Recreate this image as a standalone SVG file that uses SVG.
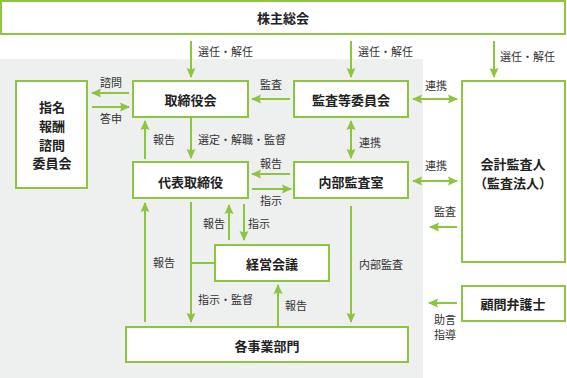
<svg xmlns="http://www.w3.org/2000/svg" width="567" height="378" viewBox="0 0 567 378">
<defs>
<style>
.box{fill:#fff;stroke:#8cc63f;stroke-width:2}
.bt{font-family:"Noto Sans CJK JP","Noto Sans",sans-serif;font-size:13px;font-weight:bold;fill:#222;text-anchor:middle;dominant-baseline:central}
.lb{font-family:"Noto Sans CJK JP","Noto Sans",sans-serif;font-size:11px;fill:#333;dominant-baseline:central}
.c{stroke:#8cc63f;stroke-width:2;fill:none}
.a{marker-end:url(#ah)}
.d{marker-start:url(#ah);marker-end:url(#ah)}
</style>
<marker id="ah" viewBox="0 0 10 10" refX="9" refY="5" markerWidth="10" markerHeight="10" markerUnits="userSpaceOnUse" orient="auto-start-reverse">
<path d="M0,0.5 L10,5 L0,9.5 L1.5,5 z" fill="#8cc63f"/>
</marker>
</defs>
<rect x="0" y="59" width="423" height="319" fill="#eeefef"/>

<g id="shareholders"><rect class="box" x="1" y="1" width="564" height="33"/><text class="bt" x="283" y="17">株主総会</text></g>
<g id="nomination"><rect class="box" x="16" y="81" width="71" height="107"/>
<text class="bt" x="52" y="106">指名</text><text class="bt" x="52" y="125">報酬</text><text class="bt" x="52" y="144">諮問</text><text class="bt" x="52" y="162">委員会</text></g>
<g id="board"><rect class="box" x="133" y="81" width="115" height="36"/><text class="bt" x="190.5" y="99">取締役会</text></g>
<g id="auditcommittee"><rect class="box" x="294" y="81" width="114" height="36"/><text class="bt" x="351" y="99">監査等委員会</text></g>
<g id="accountingauditor"><rect class="box" x="462" y="81" width="103" height="181"/><text class="bt" x="513" y="163">会計監査人</text><text class="bt" x="513" y="182">（監査法人）</text></g>
<g id="ceo"><rect class="box" x="133" y="162" width="115" height="36"/><text class="bt" x="190.5" y="181">代表取締役</text></g>
<g id="internalaudit"><rect class="box" x="294" y="162" width="114" height="36"/><text class="bt" x="351" y="181">内部監査室</text></g>
<g id="management"><rect class="box" x="215" y="245" width="114" height="36"/><text class="bt" x="272" y="263">経営会議</text></g>
<g id="divisions"><rect class="box" x="126" y="327" width="282" height="35"/><text class="bt" x="267" y="345">各事業部門</text></g>
<g id="lawyer"><rect class="box" x="462" y="286" width="103" height="35"/><text class="bt" x="513" y="303">顧問弁護士</text></g>

<g id="connectors">
<line class="c a" x1="191" y1="41" x2="191" y2="77"/>
<line class="c a" x1="351" y1="41" x2="351" y2="77"/>
<line class="c a" x1="494" y1="41" x2="494" y2="77"/>
<line class="c a" x1="129" y1="93" x2="92" y2="93"/>
<line class="c a" x1="92" y1="107" x2="129" y2="107"/>
<line class="c a" x1="290" y1="99" x2="252" y2="99"/>
<line class="c d" x1="413" y1="99" x2="457" y2="99"/>
<line class="c a" x1="145" y1="159" x2="145" y2="121"/>
<line class="c a" x1="191" y1="118" x2="191" y2="158"/>
<line class="c d" x1="351" y1="121" x2="351" y2="158"/>
<line class="c a" x1="290" y1="174" x2="252" y2="174"/>
<line class="c a" x1="252" y1="189" x2="291" y2="189"/>
<line class="c d" x1="413" y1="181" x2="457" y2="181"/>
<line class="c a" x1="457" y1="227" x2="430" y2="227"/>
<line class="c a" x1="229" y1="240" x2="229" y2="205"/>
<line class="c a" x1="244" y1="204" x2="244" y2="240"/>
<line class="c a" x1="145" y1="322" x2="145" y2="203"/>
<line class="c a" x1="191" y1="202" x2="191" y2="322"/>
<line class="c" x1="191" y1="263" x2="215" y2="263"/>
<line class="c a" x1="278" y1="327" x2="278" y2="285"/>
<line class="c a" x1="351" y1="206" x2="351" y2="322"/>
<line class="c a" x1="457" y1="303" x2="429" y2="303"/>
</g>

<g id="labels">
<text class="lb" x="198" y="51">選任・解任</text>
<text class="lb" x="358" y="51">選任・解任</text>
<text class="lb" x="500" y="56">選任・解任</text>
<text class="lb" x="111" y="82" text-anchor="middle">諮問</text>
<text class="lb" x="111" y="118" text-anchor="middle">答申</text>
<text class="lb" x="271" y="84" text-anchor="middle">監査</text>
<text class="lb" x="436" y="85" text-anchor="middle">連携</text>
<text class="lb" x="164" y="139" text-anchor="middle">報告</text>
<text class="lb" x="198" y="139">選定・解職・監督</text>
<text class="lb" x="359" y="142">連携</text>
<text class="lb" x="271" y="163" text-anchor="middle">報告</text>
<text class="lb" x="271" y="200" text-anchor="middle">指示</text>
<text class="lb" x="436" y="165" text-anchor="middle">連携</text>
<text class="lb" x="434" y="211">監査</text>
<text class="lb" x="225" y="223" text-anchor="end">報告</text>
<text class="lb" x="248" y="223">指示</text>
<text class="lb" x="153" y="262">報告</text>
<text class="lb" x="198" y="299">指示・監督</text>
<text class="lb" x="285" y="305">報告</text>
<text class="lb" x="359" y="264">内部監査</text>
<text class="lb" x="434" y="319">助言</text>
<text class="lb" x="434" y="334">指導</text>
</g>
</svg>
